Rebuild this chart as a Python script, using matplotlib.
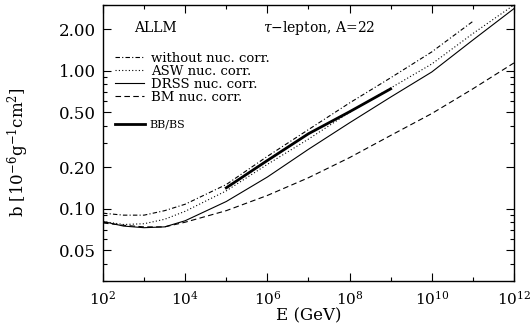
import numpy as np
import matplotlib
matplotlib.use('Agg')
import matplotlib.pyplot as plt
from matplotlib.ticker import FixedLocator, NullFormatter

logE = [2, 2.5, 3, 3.5, 4, 5, 6, 7, 8, 9, 10, 11, 12]

b_without = [0.093, 0.090, 0.090, 0.097, 0.108, 0.150, 0.240, 0.375, 0.585, 0.89, 1.37, 2.28]
logE_without = logE[:-1]
b_asw = [0.081, 0.077, 0.078, 0.084, 0.096, 0.135, 0.21, 0.32, 0.50, 0.75, 1.12, 1.86, 3.0]
b_drss = [0.081, 0.075, 0.073, 0.074, 0.082, 0.113, 0.17, 0.27, 0.42, 0.645, 0.98, 1.67, 2.82]
b_bm = [0.079, 0.076, 0.074, 0.074, 0.080, 0.097, 0.125, 0.168, 0.235, 0.34, 0.49, 0.74, 1.14]

logE_bb = [5, 6, 7, 8, 9]
b_bb = [0.142, 0.224, 0.35, 0.505, 0.74]

plt.rcParams['font.family'] = 'DejaVu Serif'
plt.rcParams['mathtext.fontset'] = 'dejavuserif'

fig = plt.figure(figsize=(5.32, 3.24), dpi=100)
ax = fig.add_axes([0.1936, 0.1327, 0.7724, 0.852])

E = lambda l: 10.0 ** np.array(l)
lw = 0.8
h1, = ax.plot(E(logE_without), b_without, color='black', lw=lw, ls=(0, (4, 2, 1, 2)))
h2, = ax.plot(E(logE), b_asw, color='black', lw=lw, ls=(0, (1, 2)))
h3, = ax.plot(E(logE), b_drss, color='black', lw=lw, ls='-')
h4, = ax.plot(E(logE), b_bm, color='black', lw=lw, ls=(0, (5, 3)))
h5, = ax.plot(E(logE_bb), b_bb, color='black', lw=2.0, ls='-')

ax.set_xscale('log')
ax.set_yscale('log')
ax.set_xlim(1e2, 1e12)
ax.set_ylim(0.03, 3.0)

# x ticks: labelled even decades, short ticks at odd decades
ax.xaxis.set_major_locator(FixedLocator([10.0 ** k for k in range(2, 13, 2)]))
ax.xaxis.set_minor_locator(FixedLocator([10.0 ** k for k in range(3, 12, 2)]))
ax.xaxis.set_minor_formatter(NullFormatter())
ax.set_xticklabels(['$10^{%d}$' % k for k in range(2, 13, 2)])

yt = [0.05, 0.1, 0.2, 0.5, 1.0, 2.0]
ax.yaxis.set_major_locator(FixedLocator(yt))
ax.set_yticklabels(['%.2f' % v for v in yt])
ax.yaxis.set_minor_locator(FixedLocator([0.03, 0.04, 0.06, 0.07, 0.08, 0.09,
                                         0.3, 0.4, 0.6, 0.7, 0.8, 0.9, 3.0]))
ax.yaxis.set_minor_formatter(NullFormatter())

ax.tick_params(which='both', direction='in', top=True, right=True)
ax.tick_params(axis='x', labelsize=11, pad=6)
ax.tick_params(axis='y', labelsize=12, pad=5)
ax.tick_params(which='major', length=6, width=0.8)
ax.tick_params(which='minor', length=3, width=0.8)
for s in ax.spines.values():
    s.set_linewidth(1.0)

ax.set_xlabel('E (GeV)', fontsize=12, labelpad=0)
ax.set_ylabel('b [10$^{-6}$g$^{-1}$cm$^2$]', fontsize=12)
ax.yaxis.set_label_coords(-0.175, 0.467)

ax.text(0.075, 0.915, 'ALLM', transform=ax.transAxes, fontsize=10, va='center')
ax.text(0.39, 0.915, r'$\tau$$-$lepton, A=22', transform=ax.transAxes, fontsize=10, va='center')

leg1 = ax.legend([h1, h2, h3, h4],
                 ['without nuc. corr.', 'ASW nuc. corr.', 'DRSS nuc. corr.', 'BM nuc. corr.'],
                 loc='upper left', bbox_to_anchor=(0.029, 0.83), frameon=False,
                 fontsize=9.5, handlelength=2.2, handletextpad=0.55,
                 labelspacing=0.0, borderaxespad=0, borderpad=0)
ax.add_artist(leg1)
ax.legend([h5], ['BB/BS'], loc='upper left', bbox_to_anchor=(0.029, 0.585), frameon=False,
          fontsize=8, handlelength=2.7, handletextpad=0.4, borderaxespad=0, borderpad=0)

fig.savefig('out.png', dpi=100)
